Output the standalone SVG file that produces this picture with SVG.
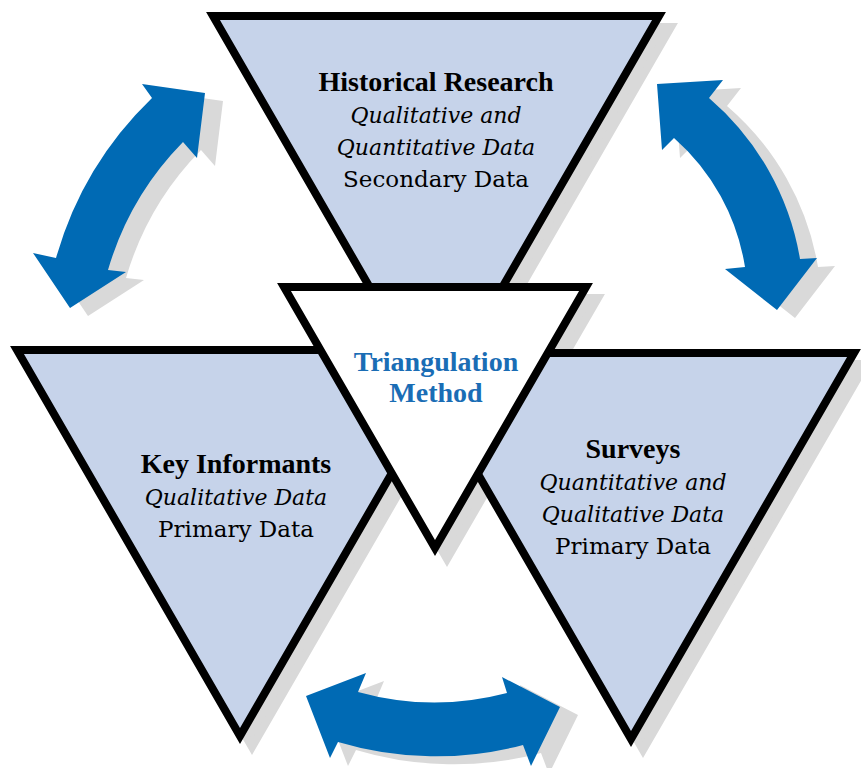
<svg xmlns="http://www.w3.org/2000/svg" width="861" height="768" viewBox="0 0 861 768">
<style>
.tri{fill:#c6d3ea;stroke:#000;stroke-width:8;stroke-linejoin:miter;stroke-miterlimit:10}
.ctr{fill:#fff;stroke:#000;stroke-width:8;stroke-linejoin:miter;stroke-miterlimit:10}
.sh{fill:#d9d9d9;stroke:#d9d9d9;stroke-width:8;stroke-linejoin:miter;stroke-miterlimit:10}
.arr{fill:#006ab4}
.ash{fill:#d9d9d9}
text{font-family:"DejaVu Serif","Liberation Serif",serif;font-size:23px;text-anchor:middle;fill:#000}
.b{font-family:"Liberation Serif","DejaVu Serif",serif;font-size:28px;font-weight:bold}
.i{font-style:italic;font-size:22px}
.t{font-family:"Liberation Serif","DejaVu Serif",serif;font-size:28px;font-weight:bold;fill:#1a6db5}
</style>
<rect width="861" height="768" fill="#fff"/>
<g id="connectors">
  <g id="arrow-left">
    <path class="ash" transform="translate(18,8)" d="M205,93 L197,158 L183,142 A304 304 0 0 0 108,270 L126,272 L70,308 L33,253 L56,258 A358 358 0 0 1 152,98 L142,84 Z"/>
    <path class="arr" d="M205,93 L197,158 L183,142 A304 304 0 0 0 108,270 L126,272 L70,308 L33,253 L56,258 A358 358 0 0 1 152,98 L142,84 Z"/>
  </g>
  <g id="arrow-right">
    <path class="ash" transform="translate(18,8)" d="M657,84 L723,80 L709,98 A271 271 0 0 1 800,259 L817,258 L777,310 L725,269 L745,267 A217 217 0 0 0 674,138 L662,150 Z"/>
    <path class="arr" d="M657,84 L723,80 L709,98 A271 271 0 0 1 800,259 L817,258 L777,310 L725,269 L745,267 A217 217 0 0 0 674,138 L662,150 Z"/>
  </g>
  <g id="arrow-bottom">
    <path class="ash" transform="translate(18,8)" d="M306,696 L366,673 L358,692 A286 286 0 0 0 507,693 L502,677 L560,707 L531,766 L523,745 A340 340 0 0 1 338,742 L330,758 Z"/>
    <path class="arr" d="M306,696 L366,673 L358,692 A286 286 0 0 0 507,693 L502,677 L560,707 L531,766 L523,745 A340 340 0 0 1 338,742 L330,758 Z"/>
  </g>
</g>
<g id="shadows">
  <polygon class="sh" transform="translate(12,11)" points="213,16 659,16 436,402"/>
  <polygon class="sh" transform="translate(12,11)" points="17,350 463,350 240,736"/>
  <polygon class="sh" transform="translate(12,11)" points="408,353 854,353 631,739"/>
  <polygon class="sh" transform="translate(12,11)" points="284,287 586,287 435,548"/>
</g>
<g id="node-historical">
  <polygon class="tri" points="213,16 659,16 436,402"/>
  <text class="b" x="436" y="91">Historical Research</text>
  <text class="i" x="436" y="123">Qualitative and</text>
  <text class="i" x="436" y="155">Quantitative Data</text>
  <text x="436" y="187">Secondary Data</text>
</g>
<g id="node-key">
  <polygon class="tri" points="17,350 463,350 240,736"/>
  <text class="b" x="236" y="473">Key Informants</text>
  <text class="i" x="236" y="505">Qualitative Data</text>
  <text x="236" y="537">Primary Data</text>
</g>
<g id="node-surveys">
  <polygon class="tri" points="408,353 854,353 631,739"/>
  <text class="b" x="633" y="458">Surveys</text>
  <text class="i" x="633" y="490">Quantitative and</text>
  <text class="i" x="633" y="522">Qualitative Data</text>
  <text x="633" y="554">Primary Data</text>
</g>
<g id="node-center">
  <polygon class="ctr" points="284,287 586,287 435,548"/>
  <text class="t" x="436" y="371">Triangulation</text>
  <text class="t" x="436" y="402">Method</text>
</g>
</svg>
